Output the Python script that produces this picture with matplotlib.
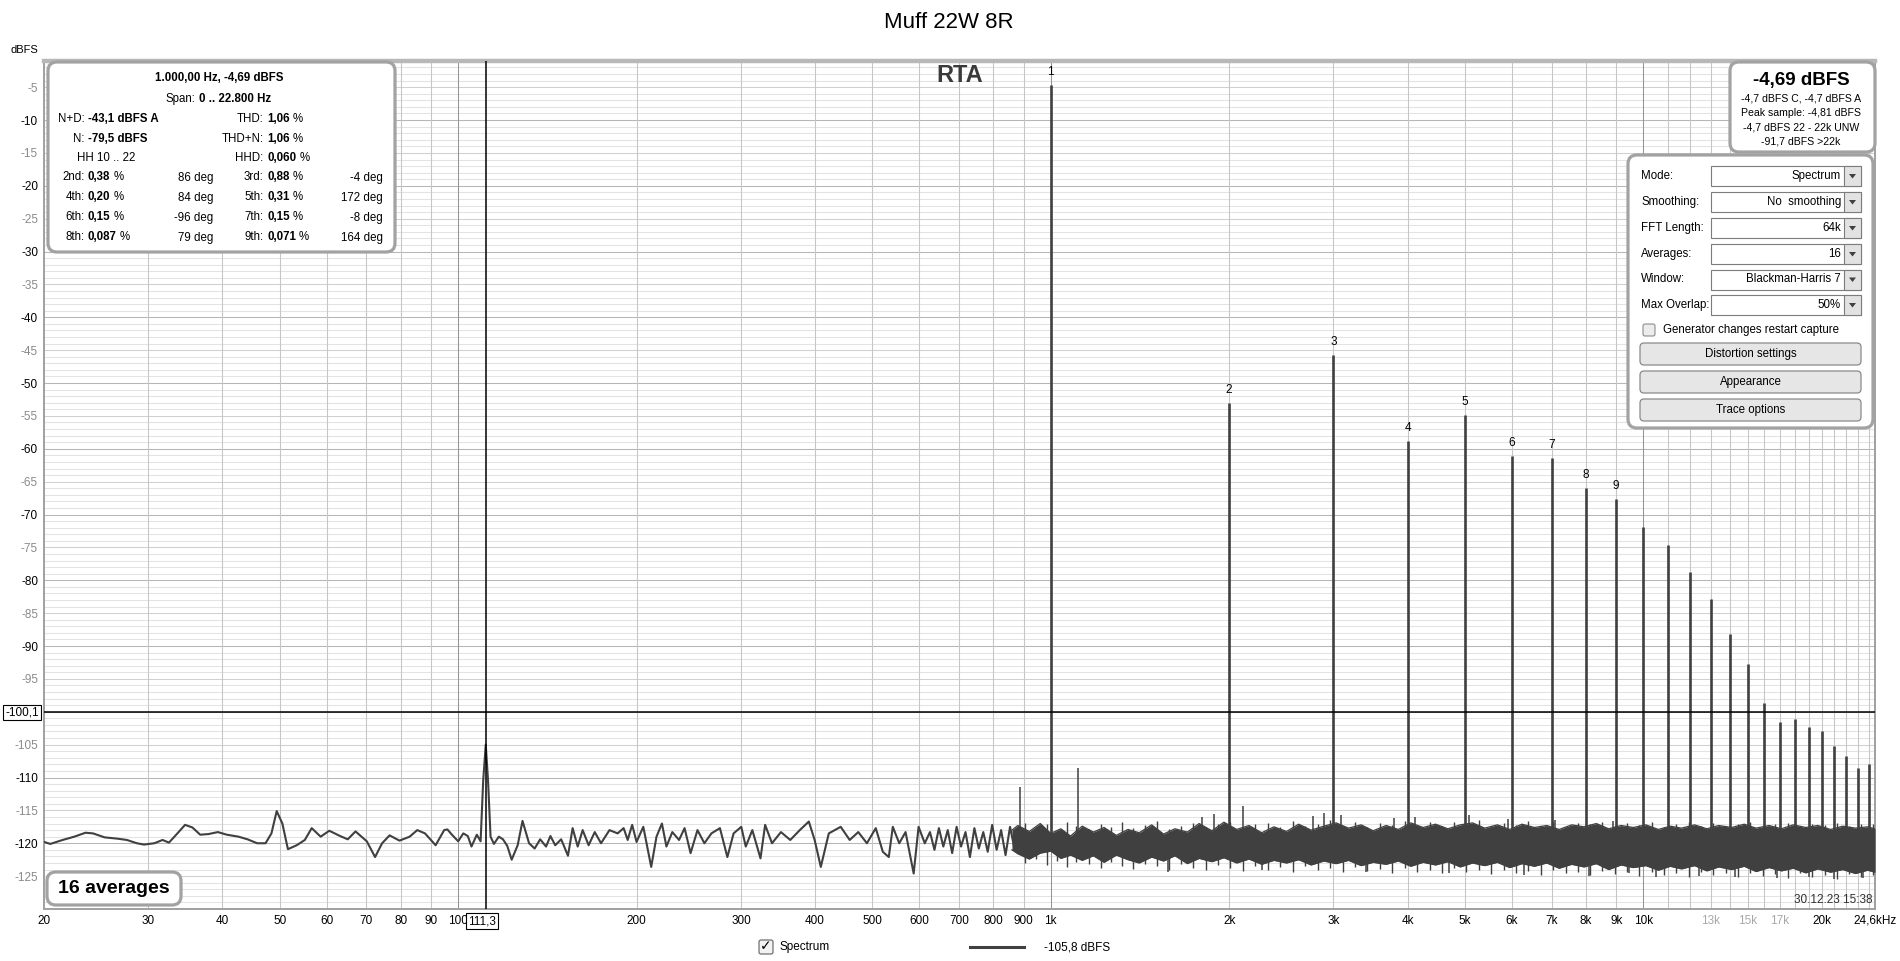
import matplotlib
matplotlib.use("Agg")
import matplotlib.pyplot as plt
from matplotlib.patches import FancyBboxPatch, Rectangle, Polygon
from matplotlib.ticker import NullLocator

plt.rcParams['font.family'] = ['Liberation Sans', 'DejaVu Sans']

# ---------------- data ----------------
title = "Muff 22W 8R"

# low-frequency part of the spectrum trace (Hz, dBFS)
lf_freq = [20.0, 20.5, 21.5, 22.5, 23.5, 24.2, 25.3, 26.6, 27.6, 28.7,
           29.5, 30.7, 31.7, 32.5, 33.2, 34.6, 35.6, 36.7, 37.9, 39.3,
           40.7, 42.6, 44.1, 45.8, 47.3, 48.4, 49.4, 50.5, 51.6, 53.4,
           55.1, 56.6, 58.6, 60.6, 63.2, 65.1, 67.1, 70.1, 72.4, 74.4,
           76.6, 79.6, 82.8, 85.3, 87.9, 91.6, 94.7, 95.9, 97.6, 100.0,
           102.0, 103.8, 105.3, 107.5, 109.1, 110.2, 111.3, 112.3, 113.4, 114.9,
           117.1, 119.0, 121.0, 123.1, 126.0, 128.4, 131.7, 134.6, 137.5, 140.7,
           143.1, 145.8, 149.2, 153.2, 156.0, 159.1, 162.2, 166.0, 170.0, 174.2,
           180.0, 185.8, 190.2, 193.2, 196.6, 200.0, 205.3, 211.7, 216.1, 220.7,
           224.6, 229.8, 235.9, 241.0, 246.7, 253.4, 260.3, 267.5, 276.5, 284.6,
           291.6, 300.4, 305.7, 313.6, 323.7, 329.6, 338.5, 350.5, 363.4, 377.1,
           390.6, 399.5, 409.2, 422.1, 442.1, 457.8, 473.3, 489.5, 506.6, 520.7,
           532.9, 541.3, 555.0, 568.8, 587.0, 598.3, 612.9, 625.4, 636.4, 647.5,
           658.7, 670.1, 681.7, 693.6, 705.6, 718.0, 730.4, 743.2, 756.1, 769.3,
           782.7, 796.4, 810.3, 824.5, 838.9, 853.6, 868.4]
lf_db = [-119.8, -120.1, -119.5, -119.0, -118.4, -118.5, -119.1, -119.3, -119.5, -120.0,
         -120.2, -120.0, -119.5, -119.9, -119.0, -117.2, -117.6, -118.7, -118.6, -118.3,
         -118.7, -119.0, -119.4, -120.0, -120.0, -118.5, -115.1, -117.0, -120.9, -120.3,
         -119.5, -117.7, -119.0, -118.1, -118.9, -119.4, -118.2, -119.7, -122.1, -120.0,
         -118.8, -119.6, -119.0, -118.0, -118.5, -120.3, -118.0, -117.9, -118.7, -119.7,
         -118.5, -118.9, -120.5, -118.7, -119.7, -110.5, -105.0, -110.5, -119.0, -120.1,
         -119.0, -119.4, -120.4, -122.5, -120.3, -116.6, -120.0, -120.8, -119.4, -120.5,
         -118.9, -120.3, -119.4, -121.9, -117.7, -120.5, -118.0, -120.3, -118.3, -120.0,
         -118.0, -118.5, -117.7, -119.5, -117.2, -119.8, -117.5, -123.6, -119.0, -117.0,
         -120.5, -118.3, -119.5, -117.7, -121.5, -118.0, -120.0, -118.5, -117.7, -122.1,
         -118.5, -117.5, -120.5, -118.0, -122.3, -117.2, -120.0, -118.3, -119.5, -118.0,
         -116.7, -119.5, -123.6, -118.5, -117.5, -119.5, -118.3, -120.0, -117.7, -121.3,
         -122.1, -117.5, -120.0, -118.3, -124.6, -117.5, -120.0, -118.3, -121.0, -117.7,
         -120.5, -118.0, -121.5, -117.5, -120.5, -118.3, -122.1, -117.7, -120.8, -118.3,
         -121.3, -117.2, -121.0, -118.0, -121.8, -117.5, -120.8]

# dense noise floor band above ~860 Hz: upper and lower envelope (dBFS)
band_freq = [860, 880, 920, 960, 1000, 1040, 1080, 1130, 1180, 1230,
             1290, 1350, 1410, 1480, 1550, 1620, 1700, 1780, 1870, 1960,
             2060, 2160, 2270, 2380, 2500, 2620, 2750, 2890, 3030, 3180,
             3340, 3500, 3680, 3860, 4050, 4250, 4460, 4680, 4910, 5150,
             5400, 5670, 5950, 6240, 6550, 6870, 7210, 7570, 7940, 8330,
             8740, 9170, 9620, 10100, 10600, 11100, 11600, 12200, 12800, 13400,
             14100, 14800, 15500, 16300, 17100, 17900, 18800, 19700, 20700, 21700,
             22800, 23900, 24600]
band_hi = [-118.0, -117.3, -118.2, -117.0, -118.5, -117.8, -118.9, -117.4, -118.3, -117.6,
           -118.8, -117.9, -118.4, -117.2, -118.6, -117.8, -118.3, -117.0, -118.1, -116.8,
           -117.9, -117.3, -118.4, -117.5, -118.2, -117.1, -118.0, -117.4, -116.9, -117.7,
           -117.2, -118.1, -117.3, -117.9, -116.9, -117.6, -117.1, -117.8, -117.2, -116.9,
           -117.7, -117.2, -117.9, -117.1, -117.6, -117.3, -117.9, -117.2, -117.5, -117.0,
           -117.8, -117.3, -117.6, -117.2, -117.9, -117.4, -117.7, -117.2, -117.8, -117.3,
           -117.6, -117.1, -117.7, -117.3, -117.8, -117.2, -117.6, -117.3, -117.9, -117.4,
           -117.7, -117.5, -117.8]
band_lo = [-121.0, -121.6, -122.4, -121.5, -121.2, -122.3, -121.8, -122.6, -121.9, -122.9,
           -121.8, -122.5, -123.0, -122.1, -122.7, -121.9, -123.1, -122.3, -122.8, -122.2,
           -123.0, -122.4, -123.2, -122.6, -123.0, -122.5, -123.3, -122.7, -123.1, -122.6,
           -123.4, -122.9, -123.2, -122.7, -123.5, -122.9, -123.3, -122.8, -123.6, -123.0,
           -123.4, -122.9, -123.7, -123.1, -123.5, -123.0, -123.8, -123.2, -123.6, -123.1,
           -124.0, -123.3, -123.7, -123.4, -124.1, -123.5, -123.9, -123.4, -124.2, -123.6,
           -124.0, -123.5, -124.3, -123.7, -124.2, -123.8, -124.5, -123.9, -124.4, -124.0,
           -124.6, -124.1, -124.4]

# individual noise strokes inside the dense band (top / bottom, dBFS)
tex_freq = [905, 945, 985, 1025, 1065, 1105, 1160, 1215, 1265, 1320,
            1375, 1440, 1510, 1585, 1660, 1740, 1825, 1915, 2010, 2110,
            2215, 2325, 2440, 2560, 2690, 2820, 2960, 3110, 3260, 3420,
            3590, 3770, 3960, 4150, 4360, 4570, 4800, 5030, 5280, 5540,
            5810, 6100, 6400, 6710, 7040, 7390, 7750, 8130, 8530, 8950,
            9390, 9850, 10330, 10840, 11370, 11930, 12520, 13130, 13780, 14450,
            15160, 15910, 16690, 17510, 18370, 19270, 20220, 21210, 22250, 23340,
            24400]
tex_top = [-116.9, -117.6, -117.1, -118.0, -116.7, -117.4, -117.9, -117.0, -117.5, -116.8,
           -117.7, -117.2, -116.6, -117.9, -117.3, -116.9, -117.6, -117.0, -116.7, -117.8,
           -117.1, -116.9, -117.5, -116.6, -117.3, -117.0, -116.5, -117.4, -116.8, -117.6,
           -116.9, -117.2, -116.6, -117.5, -116.8, -117.3, -116.7, -117.0, -116.5, -117.4,
           -116.9, -117.2, -116.6, -117.3, -116.8, -117.5, -116.9, -117.1, -116.7, -117.4,
           -116.9, -117.2, -116.8, -117.5, -117.0, -116.8, -117.3, -116.9, -117.4, -117.0,
           -116.8, -117.3, -117.1, -116.9, -117.4, -117.0, -117.2, -116.9, -117.3, -117.1,
           -117.0]
tex_bot = [-123.0, -122.4, -123.3, -122.7, -123.6, -122.9, -123.2, -123.8, -122.8, -123.4,
           -123.9, -123.1, -123.5, -124.0, -123.2, -123.7, -124.1, -123.3, -123.8, -124.2,
           -123.4, -124.0, -123.6, -124.3, -123.5, -124.1, -123.7, -124.4, -123.6, -124.2,
           -123.9, -124.5, -123.7, -124.3, -124.0, -124.6, -123.8, -124.4, -124.1, -124.7,
           -124.0, -124.5, -124.2, -124.8, -124.1, -124.6, -124.3, -124.9, -124.2, -124.7,
           -124.4, -125.0, -124.3, -124.8, -124.5, -125.1, -124.4, -124.9, -124.6, -125.2,
           -124.5, -125.0, -124.7, -125.3, -124.6, -125.1, -124.8, -125.4, -124.7, -125.2,
           -124.9]

# isolated spurs sticking out of the noise floor
spur_up_freq = [889, 1111, 1800, 1889, 2111, 2770, 2889, 3090, 3800, 4111, 5070, 5900, 7100, 8900]
spur_up_db = [-111.4, -108.6, -116.0, -115.6, -114.4, -115.9, -115.4, -115.7, -116.1, -116.0,
              -115.7, -116.3, -116.5, -116.6]
spur_dn_freq = [1580, 2270, 3400, 4700, 6300, 8100, 9460, 10500, 12400, 14300, 16800, 19000, 21000, 23500]
spur_dn_db = [-124.3, -124.0, -124.3, -124.6, -124.8, -125.0, -124.6, -125.1, -125.0, -125.2,
              -125.3, -125.1, -125.4, -125.3]

# fundamental and harmonics
harm_freq = [1000, 2000, 3000, 4000, 5000, 6000, 7000, 8000, 9000, 10000, 11000, 12000,
             13000, 14000, 15000, 16000, 17000, 18000, 19000, 20000, 21000, 22000, 23000, 24000]
harm_db = [-4.69, -53.1, -45.7, -58.8, -54.9, -61.1, -61.4, -66.0, -67.6, -71.9, -74.6, -78.8,
           -82.8, -88.1, -92.7, -98.6, -101.5, -101.1, -102.3, -103.0, -105.2, -106.8, -108.5, -108.0]
harm_labels = ["1", "2", "3", "4", "5", "6", "7", "8", "9"]

cursor_freq = 111.3
cursor_db = -100.1
cursor_freq_text = "111,3"
cursor_db_text = "-100,1"

x_tick_vals = [20, 30, 40, 50, 60, 70, 80, 90, 100, 200, 300, 400, 500, 600, 700, 800, 900,
               1000, 2000, 3000, 4000, 5000, 6000, 7000, 8000, 9000, 10000, 13000, 15000, 17000,
               20000, 24600]
x_tick_text = ["20", "30", "40", "50", "60", "70", "80", "90", "100", "200", "300", "400", "500",
               "600", "700", "800", "900", "1k", "2k", "3k", "4k", "5k", "6k", "7k", "8k", "9k",
               "10k", "13k", "15k", "17k", "20k", "24,6kHz"]
x_tick_faint = ["13k", "15k", "17k"]
y_tick_vals = [-5, -10, -15, -20, -25, -30, -35, -40, -45, -50, -55, -60, -65, -70, -75, -80,
               -85, -90, -95, -105, -110, -115, -120, -125]
y_tick_text = ["-5", "-10", "-15", "-20", "-25", "-30", "-35", "-40", "-45", "-50", "-55", "-60",
               "-65", "-70", "-75", "-80", "-85", "-90", "-95", "-105", "-110", "-115",
               "-120", "-125"]

stat_head = "1.000,00 Hz, -4,69 dBFS"
span_label = "Span:"
span_value = "0 .. 22.800 Hz"
sum_left_labels = ["N+D:", "N:"]
sum_left_values = ["-43,1 dBFS A", "-79,5 dBFS"]
hh_text = "HH 10 .. 22"
sum_right_labels = ["THD:", "THD+N:", "HHD:"]
sum_right_values = ["1,06", "1,06", "0,060"]
hn_names = ["2nd:", "3rd:", "4th:", "5th:", "6th:", "7th:", "8th:", "9th:"]
hn_pct = ["0,38", "0,88", "0,20", "0,31", "0,15", "0,15", "0,087", "0,071"]
hn_deg = ["86 deg", "-4 deg", "84 deg", "172 deg", "-96 deg", "-8 deg", "79 deg", "164 deg"]

level_main = "-4,69 dBFS"
level_lines = ["-4,7 dBFS C, -4,7 dBFS A", "Peak sample: -4,81 dBFS",
               "-4,7 dBFS 22 - 22k UNW", "-91,7 dBFS >22k"]

set_labels = ["Mode:", "Smoothing:", "FFT Length:", "Averages:", "Window:", "Max Overlap:"]
set_values = ["Spectrum", "No  smoothing", "64k", "16", "Blackman-Harris 7", "50%"]
check_text = "Generator changes restart capture"
button_texts = ["Distortion settings", "Appearance", "Trace options"]

avg_text = "16 averages"
stamp_text = "30.12.23 15:38"
legend_name = "Spectrum"
legend_value = "-105,8 dBFS"

# ---------------- figure ----------------
W, H = 1900, 961
fig = plt.figure(figsize=(W / 100, H / 100), dpi=100)
L, R, T, B = 44.0, 1875.0, 60.9, 909.0
ax = fig.add_axes([L / W, 1 - B / H, (R - L) / W, (B - T) / H])
ax.set_xscale('log')
ax.set_xlim(20, 24600)
ax.set_ylim(-130, -1)
ax.set_facecolor('white')

TRACE = '#404040'

# grid
vgrid_minor = [30, 40, 50, 60, 70, 80, 90, 200, 300, 400, 500, 600, 700, 800, 900,
               2000, 3000, 4000, 5000, 6000, 7000, 8000, 9000,
               11000, 12000, 13000, 14000, 15000, 16000, 17000, 18000, 19000, 20000,
               21000, 22000, 23000, 24000]
vgrid_major = [100, 1000, 10000]
for v in range(-129, -1):
    if v % 10 == 0:
        c = '#b6b6b6'
    elif v % 5 == 0:
        c = '#d0d0d0'
    else:
        c = '#e3e3e3'
    ax.axhline(v, color=c, lw=0.75, zorder=0.5)
for v in vgrid_minor:
    ax.axvline(v, color='#c6c6c6', lw=0.75, zorder=0.6)
for v in vgrid_major:
    ax.axvline(v, color='#959595', lw=0.75, zorder=0.6)

# trace
ax.plot(lf_freq, lf_db, color=TRACE, lw=1.5, zorder=3)
ax.fill_between(band_freq, band_lo, band_hi, color=TRACE, lw=0, zorder=3)
ax.plot(band_freq, band_hi, color=TRACE, lw=0.9, zorder=3)
ax.plot(band_freq, band_lo, color=TRACE, lw=0.9, zorder=3)
ax.vlines(tex_freq, tex_bot, tex_top, color=TRACE, lw=1.0, zorder=3)
ax.vlines(spur_up_freq, -120, spur_up_db, color=TRACE, lw=1.1, zorder=3)
ax.vlines(spur_dn_freq, -121, spur_dn_db, color=TRACE, lw=1.1, zorder=3)
ax.vlines(harm_freq, -121, harm_db, color=TRACE, lw=1.9, zorder=3)
for lab, f, d in zip(harm_labels, harm_freq, harm_db):
    ax.annotate(lab, (f, d), xytext=(0, 13), textcoords='offset pixels',
                ha='center', va='center', fontsize=8.5, color='black', zorder=4)

# cursor
ax.axvline(cursor_freq, color='black', lw=1.1, zorder=4)
ax.axhline(cursor_db, color='black', lw=1.1, zorder=4)

# ticks
ax.set_xticks(x_tick_vals)
ax.set_xticklabels(x_tick_text)
ax.xaxis.set_minor_locator(NullLocator())
ax.set_yticks(y_tick_vals)
ax.set_yticklabels(y_tick_text)
ax.tick_params(axis='both', length=0, labelsize=8.5)
ax.tick_params(axis='x', pad=4.3)
ax.tick_params(axis='y', pad=4.3)
for t in ax.get_xticklabels():
    t.set_color('#a8a8a8' if t.get_text() in x_tick_faint else 'black')
for t, v in zip(ax.get_yticklabels(), y_tick_vals):
    t.set_color('black' if v % 10 == 0 else '#8a8a8a')

for s in ['left', 'bottom', 'right']:
    ax.spines[s].set_color('#a0a0a0')
    ax.spines[s].set_linewidth(1.4)
ax.spines['top'].set_color('#b8b8b8')
ax.spines['top'].set_linewidth(3.2)

# ---------------- overlay in pixel coordinates ----------------
ov = fig.add_axes([0, 0, 1, 1], facecolor='none')
ov.set_xlim(0, W)
ov.set_ylim(H, 0)
ov.axis('off')
renderer = fig.canvas.get_renderer()


def rbox(x0, y0, x1, y1, r=9, ec='#a2a2a2', lw=2.3, fc='white', z=5):
    p = FancyBboxPatch((x0, y0), x1 - x0, y1 - y0,
                       boxstyle="round,pad=0,rounding_size=%g" % r,
                       fc=fc, ec=ec, lw=lw, zorder=z)
    ov.add_patch(p)


def txt(x, y, s, size=8.3, bold=False, ha='left', color='black', z=6, **kw):
    return ov.text(x, y, s, fontsize=size, fontweight='bold' if bold else 'normal',
                   ha=ha, va='center', color=color, zorder=z, **kw)


def width(t):
    return t.get_window_extent(renderer=renderer).width


def label_value(colon_x, y, label, value, unit=None, size=8.3):
    txt(colon_x, y, label, size=size, ha='right')
    t = txt(colon_x + 3.5, y, value, size=size, bold=True)
    if unit:
        txt(colon_x + 3.5 + width(t) + 3.0, y, unit, size=size)


# title and axis caption
txt(949, 22, title, size=16, ha='center')
txt(24, 50, "dBFS", size=8, ha='center')

# RTA
txt(960, 75, "RTA", size=17, bold=True, ha='center', color='#3a3a3a')

# stats box
rbox(48, 62, 395, 252)
txt(219, 78, stat_head, bold=True, ha='center')
txt(195.5, 99, span_label, ha='right')
txt(199, 99, span_value, bold=True)
row_y = [119, 138.5, 158]
for i in range(2):
    label_value(84.5, row_y[i], sum_left_labels[i], sum_left_values[i])
txt(77, row_y[2], hh_text)
for i in range(3):
    label_value(263.5, row_y[i], sum_right_labels[i], sum_right_values[i], unit="%")
hrow_y = [177.5, 197.5, 217.5, 237.5]
for i in range(4):
    y = hrow_y[i]
    label_value(84.5, y, hn_names[2 * i], hn_pct[2 * i], unit="%")
    txt(213.5, y, hn_deg[2 * i], ha='right')
    label_value(263.5, y, hn_names[2 * i + 1], hn_pct[2 * i + 1], unit="%")
    txt(383, y, hn_deg[2 * i + 1], ha='right')

# level box
rbox(1730, 62, 1875, 152)
txt(1801, 80, level_main, size=13.5, bold=True, ha='center')
for y, s in zip([98.5, 113, 127, 141], level_lines):
    txt(1801, y, s, size=7.6, ha='center')

# settings panel
rbox(1628, 155, 1873, 428)
set_y = [176, 202, 228, 254, 279.5, 305]
for y, lab, val in zip(set_y, set_labels, set_values):
    txt(1641, y, lab)
    ov.add_patch(Rectangle((1711, y - 10), 150, 20, fc='white', ec='#7c7c7c', lw=0.8, zorder=6))
    ov.add_patch(Rectangle((1844, y - 10), 17, 20, fc='#e2e2e2', ec='#7c7c7c', lw=0.8, zorder=6))
    ov.add_patch(Polygon([[1849, y - 2], [1856, y - 2], [1852.5, y + 2.5]], closed=True,
                         fc='#404040', ec='none', zorder=7))
    txt(1841, y, val, ha='right', z=7)
ov.add_patch(FancyBboxPatch((1643, 324), 12, 12, boxstyle="round,pad=0,rounding_size=2",
                            fc='#ececec', ec='#8c8c8c', lw=0.8, zorder=6))
txt(1663, 330, check_text)
for (y0, y1), s in zip([(343, 365), (371, 393), (399, 421)], button_texts):
    ov.add_patch(FancyBboxPatch((1640, y0), 221, y1 - y0, boxstyle="round,pad=0,rounding_size=4",
                                fc='#e6e6e6', ec='#8a8a8a', lw=0.9, zorder=6))
    txt(1750.5, (y0 + y1) / 2, s, ha='center', z=7)

# 16 averages box
rbox(47, 872, 181, 905)
txt(114, 888.5, avg_text, size=14, bold=True, ha='center')

# time stamp
txt(1873, 900, stamp_text, size=8.5, ha='right', color='#303030')

# cursor value boxes
txt(22, 712.5, cursor_db_text, size=8.5, ha='center', z=8,
    bbox=dict(boxstyle='square,pad=0.15', fc='white', ec='black', lw=0.8))
txt(482, 921, cursor_freq_text, size=8.5, ha='center', z=8,
    bbox=dict(boxstyle='square,pad=0.15', fc='white', ec='black', lw=0.8))

# legend
ov.add_patch(FancyBboxPatch((759, 940), 14, 14, boxstyle="round,pad=0,rounding_size=2",
                            fc='#f2f2f2', ec='#707070', lw=0.9, zorder=6))
ov.text(766, 946.5, '\u2713', fontsize=10, fontweight='bold', ha='center', va='center',
        family='DejaVu Sans', zorder=7)
txt(779, 947, legend_name, size=8.5)
ov.plot([970, 1024], [947, 947], color=TRACE, lw=2.2, zorder=6)
txt(1044, 947, legend_value, size=8.5)

fig.savefig("out.png", dpi=100, facecolor='white')
